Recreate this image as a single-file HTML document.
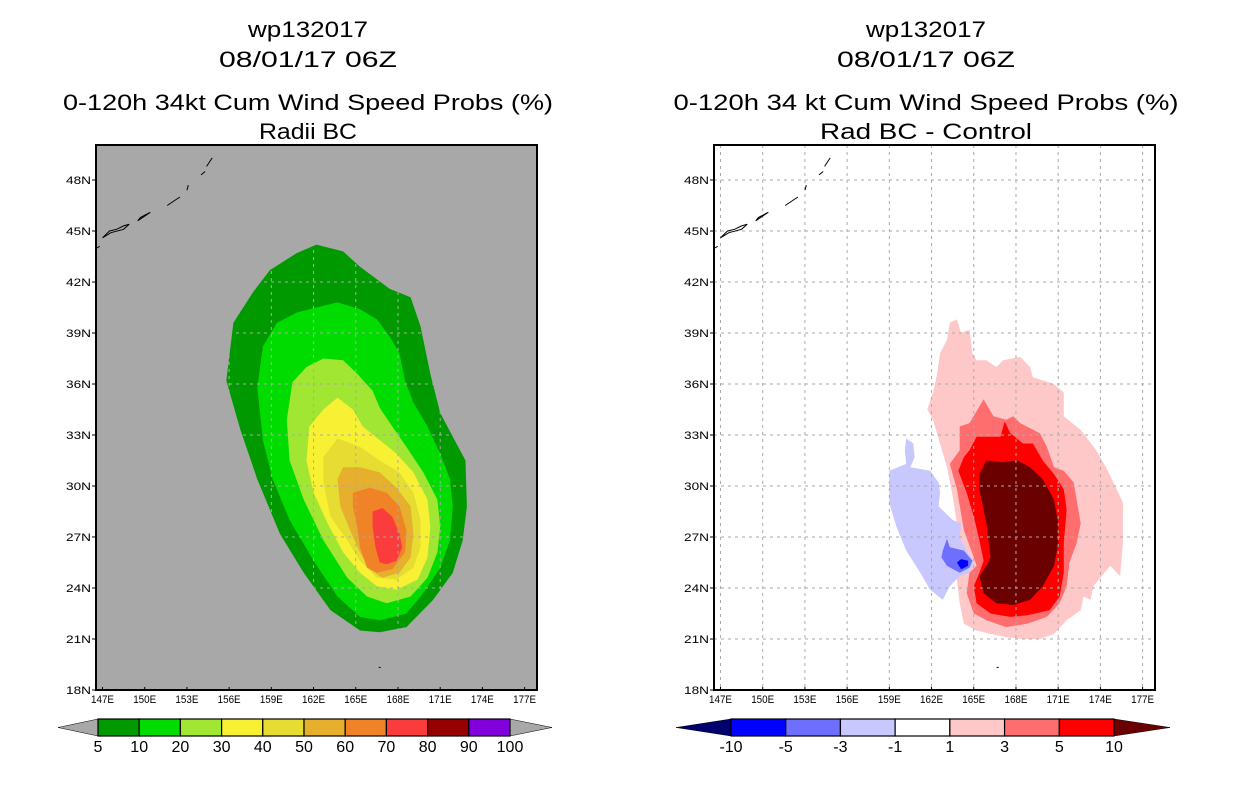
<!DOCTYPE html>
<html><head><meta charset="utf-8"><style>
html,body{margin:0;padding:0;background:#fff;}
svg{display:block;font-family:"Liberation Sans",sans-serif;}
</style></head><body>
<svg id="chart" width="1236" height="800" viewBox="0 0 1236 800" xmlns="http://www.w3.org/2000/svg">
<rect width="1236" height="800" fill="#fff"/>
<g font-size="22" text-anchor="middle" fill="#000">
<text x="308" y="37" textLength="120" lengthAdjust="spacingAndGlyphs">wp132017</text>
<text x="308" y="67" textLength="178" lengthAdjust="spacingAndGlyphs">08/01/17 06Z</text>
<text x="308" y="110" textLength="490" lengthAdjust="spacingAndGlyphs">0-120h 34kt Cum Wind Speed Probs (%)</text>
<text x="308" y="139" textLength="98" lengthAdjust="spacingAndGlyphs">Radii BC</text>
</g>
<g font-size="22" text-anchor="middle" fill="#000">
<text x="926" y="37" textLength="120" lengthAdjust="spacingAndGlyphs">wp132017</text>
<text x="926" y="67" textLength="178" lengthAdjust="spacingAndGlyphs">08/01/17 06Z</text>
<text x="926" y="110" textLength="505" lengthAdjust="spacingAndGlyphs">0-120h 34 kt Cum Wind Speed Probs (%)</text>
<text x="926" y="139" textLength="212" lengthAdjust="spacingAndGlyphs">Rad BC - Control</text>
</g>
<g id="left"></g>
<g id="right"></g>
<g id="cbars"></g>
</svg>
<script>
const lonTicks = [147,150,153,156,159,162,165,168,171,174,177];
const latTicks = [18,21,24,27,30,33,36,39,42,45,48];
const leftLevels = ["5","10","20","30","40","50","60","70","80","90","100"];
const leftColors = ["#009a00","#00dc00","#a0e632","#f8f032","#e6dc32","#e6af2d","#f08228","#fa3c3c","#960000","#8200dc"];
const rightLevels = ["-10","-5","-3","-1","1","3","5","10"];
const rightColors = ["#0000ff","#6e6eff","#c8c8ff","#ffffff","#ffc8c8","#ff6e6e","#ff0000"];
// Left contour polygons [lon,lat]
const p5 = [[162.2,44.2],[164.1,43.8],[165.3,42.9],[167.4,41.6],[168.9,41.1],[169.6,39.4],[170.3,36.6],[171.0,34.3],[171.9,32.9],[172.8,31.5],[172.9,28.8],[172.6,26.8],[171.9,24.9],[170.5,23.3],[168.6,21.7],[166.7,21.4],[165.3,21.5],[163.2,22.7],[161.3,24.9],[159.6,27.2],[158.0,30.4],[156.8,33.3],[155.8,36.2],[156.3,39.6],[157.7,41.4],[158.9,42.7],[160.8,43.7]];
const p10 = [[162.2,40.5],[163.7,40.8],[165.3,40.4],[166.5,39.8],[167.4,38.8],[168.1,37.8],[168.5,36.2],[169.1,34.9],[170.1,33.5],[171.0,31.9],[171.7,30.4],[171.9,28.8],[171.7,26.8],[171.0,25.2],[169.8,23.7],[168.6,22.5],[166.7,22.1],[165.3,22.3],[163.7,23.5],[162.0,25.6],[160.3,28.0],[159.1,30.4],[158.4,32.7],[158.0,35.8],[158.4,38.2],[159.4,39.6],[160.8,40.2]];
const p20 = [[162.7,37.5],[164.1,37.4],[165.1,36.6],[166.2,35.6],[166.7,34.6],[167.6,33.5],[168.6,32.3],[169.8,30.8],[170.8,29.2],[171.0,27.6],[170.8,26.1],[170.1,24.6],[168.9,23.5],[167.2,23.1],[165.8,23.5],[164.4,24.6],[162.7,26.8],[161.3,29.2],[160.3,31.5],[160.1,33.9],[160.5,36.1],[161.5,37.0]];
const p30 = [[163.7,35.2],[164.8,34.5],[165.5,33.5],[166.7,32.7],[167.9,31.9],[169.1,30.8],[170.1,29.2],[170.3,27.6],[170.1,25.8],[169.4,24.5],[167.9,23.9],[166.5,24.1],[165.3,24.9],[164.1,26.1],[163.0,27.8],[162.0,29.6],[161.5,31.5],[161.7,33.5],[162.7,34.5]];
const p40 = [[163.7,32.8],[165.3,32.3],[166.7,31.5],[168.1,30.8],[169.1,29.6],[169.6,28.0],[169.6,26.4],[169.1,25.2],[167.9,24.5],[166.5,24.6],[165.3,25.6],[164.4,26.8],[163.2,28.2],[162.7,30.2],[162.7,31.7]];
const p50 = [[164.1,31.1],[165.3,31.1],[166.7,30.8],[167.9,29.9],[168.9,28.8],[169.1,27.2],[168.9,25.8],[168.1,24.9],[166.9,24.6],[166.0,25.1],[165.3,26.1],[164.6,27.4],[163.9,28.8],[163.7,30.4]];
const p60 = [[164.8,29.6],[166.0,29.9],[167.2,29.6],[168.1,28.8],[168.6,27.4],[168.5,26.1],[167.6,25.1],[166.5,24.9],[165.8,25.2],[165.3,26.4],[165.1,27.6],[164.8,28.8]];
const p70 = [[166.2,28.5],[166.9,28.7],[167.6,28.2],[168.1,27.2],[168.3,26.4],[167.9,25.6],[167.2,25.4],[166.7,25.5],[166.4,26.4],[166.2,27.6]];
// Right difference polygons
const q1 = [[163.3,39.6],[163.8,39.8],[164.1,39.0],[164.7,39.2],[164.9,37.8],[165.2,37.4],[165.9,37.4],[166.6,37.0],[167.1,37.4],[168.3,37.6],[169.0,37.0],[169.2,36.4],[170.7,36.0],[171.4,35.5],[171.4,34.1],[172.6,33.3],[173.7,32.1],[174.4,31.1],[175.4,29.4],[175.6,29.0],[175.6,26.6],[175.4,24.7],[174.7,25.3],[173.5,24.1],[173.3,23.3],[172.8,23.5],[172.6,22.7],[171.6,22.1],[170.7,21.3],[169.7,21.0],[168.5,21.0],[167.3,21.1],[166.2,21.3],[165.2,21.5],[164.3,21.9],[164.0,23.1],[163.8,24.5],[164.0,25.1],[163.5,26.2],[163.8,27.8],[163.5,29.4],[163.1,31.1],[162.1,33.9],[161.7,34.5],[162.1,35.5],[162.4,36.6],[162.6,37.8],[163.1,38.6]];
const q3 = [[165.7,35.1],[166.4,34.1],[167.3,33.9],[167.8,34.1],[168.3,33.7],[169.7,33.1],[170.2,32.3],[170.7,31.1],[171.4,30.9],[172.1,30.2],[172.6,27.8],[172.3,26.6],[171.8,25.5],[171.6,24.1],[171.1,23.1],[170.2,22.3],[168.8,21.9],[167.3,21.7],[165.9,22.1],[165.0,22.5],[164.5,23.7],[164.7,24.9],[165.2,25.3],[165.0,25.8],[164.3,27.4],[163.8,29.8],[163.5,30.7],[163.3,31.3],[164.0,32.1],[164.0,33.5],[164.7,33.7]];
const q5 = [[165.2,32.9],[166.9,32.9],[167.2,33.8],[167.6,33.1],[168.5,32.5],[169.2,32.5],[169.9,31.5],[170.7,30.7],[171.4,29.8],[171.6,28.6],[171.4,26.6],[171.4,24.9],[171.1,23.5],[170.4,22.7],[168.8,22.4],[167.6,22.3],[166.2,22.5],[165.2,23.1],[165.0,24.1],[165.4,24.9],[165.7,25.6],[165.4,26.8],[165.0,28.2],[164.5,29.6],[163.9,30.9],[164.3,31.7],[164.7,32.1]];
const q10 = [[165.9,31.5],[167.1,31.4],[168.1,31.5],[169.0,31.1],[169.9,30.4],[170.7,29.2],[171.0,27.8],[171.0,26.6],[170.7,25.3],[169.9,24.1],[169.0,23.3],[167.8,23.0],[166.6,23.1],[165.7,23.7],[165.4,24.7],[165.9,25.3],[166.2,25.8],[165.9,27.8],[165.4,29.8],[165.4,30.7]];
const qm1 = [[160.2,32.8],[160.7,32.5],[160.8,31.7],[160.5,31.1],[161.9,30.9],[162.5,30.2],[162.6,29.6],[162.5,28.8],[163.5,28.0],[164.1,27.8],[164.0,27.0],[164.5,26.2],[165.0,25.5],[164.7,24.9],[164.0,24.7],[163.3,24.1],[162.8,23.3],[161.9,23.9],[161.2,24.9],[160.2,26.2],[159.5,27.6],[159.0,29.0],[159.0,30.9],[160.2,31.3],[160.1,32.1]];
const qm3 = [[163.1,26.9],[163.3,26.4],[164.3,26.2],[164.9,25.6],[164.7,25.2],[164.0,24.9],[163.1,25.3],[162.7,25.8],[162.8,26.2]];
const qm5 = [[163.8,25.5],[164.1,25.7],[164.6,25.6],[164.6,25.3],[164.1,25.1]];
// Kuril island outlines
const islands = [[[146.6,44.0],[146.8,44.1]],[[147.0,44.6],[147.5,45.0],[148.0,45.1],[148.5,45.3],[148.9,45.4],[148.5,45.1],[147.6,44.9],[147.0,44.6]],[[149.5,45.6],[150.4,46.1],[149.7,45.8],[149.5,45.6]],[[151.6,46.5],[152.5,47.0]],[[153.0,47.4],[153.1,47.7]],[[154.0,48.3],[154.3,48.5]],[[154.4,48.8],[154.8,49.3]]];
const NS="http://www.w3.org/2000/svg";
const PX0 = 102.5, PXS = 14.07, PY0 = 690, PYS = 17;
function X(lon, off){ return PX0 + off + (lon-147)*PXS; }
function Y(lat){ return PY0 - (lat-18)*PYS; }
function mk(tag, attrs, parent){ const e=document.createElementNS(NS,tag); for(const k in attrs) e.setAttribute(k,attrs[k]); parent.appendChild(e); return e; }
function pts(poly, off){ return poly.map(p=>X(p[0],off).toFixed(1)+","+Y(p[1]).toFixed(1)).join(" "); }

function frame(g, off, bg, polys, gridClip){
  const fx = 96+off, fy = 145, fw = 441, fh = 545;
  const clipId = "clip"+off;
  const cp = mk("clipPath",{id:clipId},g);
  mk("rect",{x:fx,y:fy,width:fw,height:fh},cp);
  const bgr = mk("rect",{x:fx,y:fy,width:fw,height:fh,fill:bg},g);
  
  
  const body = mk("g",{"clip-path":"url(#"+clipId+")"},g);
  polys.forEach(pp=>{
    const e = mk("polygon",{points:pts(pp.poly,off),fill:pp.color},body);
    
    
  });
  // grid
  let gg = body;
  if(gridClip){
    const gc = mk("clipPath",{id:"gclip"+off},g);
    mk("polygon",{points:pts(gridClip,off)},gc);
    gg = mk("g",{"clip-path":"url(#gclip"+off+")"},body);
  }
  lonTicks.forEach(l=>{
    const ln = mk("line",{x1:X(l,off),x2:X(l,off),y1:fy,y2:fy+fh,stroke:"#aaa","stroke-width":1,"stroke-dasharray":"3,4"},gg);
    
    
  });
  latTicks.forEach(l=>{
    const ln = mk("line",{x1:fx,x2:fx+fw,y1:Y(l),y2:Y(l),stroke:"#aaa","stroke-width":1,"stroke-dasharray":"3,4"},gg);
    
    
  });
  islands.forEach(isl=>{
    const e = mk("polyline",{points:pts(isl,off),fill:"none",stroke:"#000","stroke-width":1},body);
    
    
  });
  mk("rect",{x:X(166.7,off)-1,y:Y(19.3)-1,width:2,height:1,fill:"#000"},body);
  const fr = mk("rect",{x:fx,y:fy,width:fw,height:fh,fill:"none",stroke:"#000","stroke-width":2},g);
  
  
  latTicks.forEach(l=>{
    mk("line",{x1:fx-4,x2:fx,y1:Y(l),y2:Y(l),stroke:"#000"},g);
    const t = mk("text",{x:fx-5,y:Y(l)+4,"font-size":11,"text-anchor":"end",textLength:25,lengthAdjust:"spacingAndGlyphs"},g);
    t.textContent = l+"N";
    
    
  });
  lonTicks.forEach(l=>{
    mk("line",{x1:X(l,off),x2:X(l,off),y1:fy+fh,y2:fy+fh-3,stroke:"#000"},g);
    const t = mk("text",{x:X(l,off),y:fy+fh+13,"font-size":11,"text-anchor":"middle",textLength:23,lengthAdjust:"spacingAndGlyphs"},g);
    t.textContent = l+"E";
    
    
  });
}

frame(document.getElementById("left"),0,"#a8a8a8",[
  {poly:p5,color:leftColors[0],name:"contour-5"},
  {poly:p10,color:leftColors[1],name:"contour-10"},
  {poly:p20,color:leftColors[2],name:"contour-20"},
  {poly:p30,color:leftColors[3],name:"contour-30"},
  {poly:p40,color:leftColors[4],name:"contour-40"},
  {poly:p50,color:leftColors[5],name:"contour-50"},
  {poly:p60,color:leftColors[6],name:"contour-60"},
  {poly:p70,color:leftColors[7],name:"contour-70"}
], p5);
frame(document.getElementById("right"),618,"#ffffff",[
  {poly:q1,color:rightColors[4],name:"diff-1-3"},
  {poly:q3,color:rightColors[5],name:"diff-3-5"},
  {poly:q5,color:rightColors[6],name:"diff-5-10"},
  {poly:q10,color:"#6a0000",name:"diff-above-10"},
  {poly:qm1,color:rightColors[2],name:"diff-minus1-3"},
  {poly:qm3,color:rightColors[1],name:"diff-minus3-5"},
  {poly:qm5,color:rightColors[0],name:"diff-minus5-10"}
], null);

function cbar(g, x0, x1, tl, tr, colors, labels, lowC, highC, name){
  const y0 = 719, y1 = 736, ym = 727.5;
  const w = (x1-x0)/colors.length;
  const l = mk("polygon",{points:`${tl},${ym} ${x0},${y0} ${x0},${y1}`,fill:lowC,stroke:"#000","stroke-width":0.5},g);
  
  
  const r = mk("polygon",{points:`${tr},${ym} ${x1},${y0} ${x1},${y1}`,fill:highC,stroke:"#000","stroke-width":0.5},g);
  
  
  colors.forEach((c,i)=>{
    const b = mk("rect",{x:x0+i*w,y:y0,width:w,height:y1-y0,fill:c,stroke:"#000","stroke-width":1.2},g);
    
    
  });
  labels.forEach((s,i)=>{
    const t = mk("text",{x:x0+i*w,y:752,"font-size":16,"text-anchor":"middle"},g);
    t.textContent = s;
    
    
  });
}
const cb = document.getElementById("cbars");
cbar(cb, 98, 510, 58, 552, leftColors, leftLevels, "#a8a8a8", "#a8a8a8", "left-colorbar");
cbar(cb, 731, 1114, 676, 1170, rightColors, rightLevels, "#00006e", "#6a0000", "right-colorbar");
</script>
</body></html>
